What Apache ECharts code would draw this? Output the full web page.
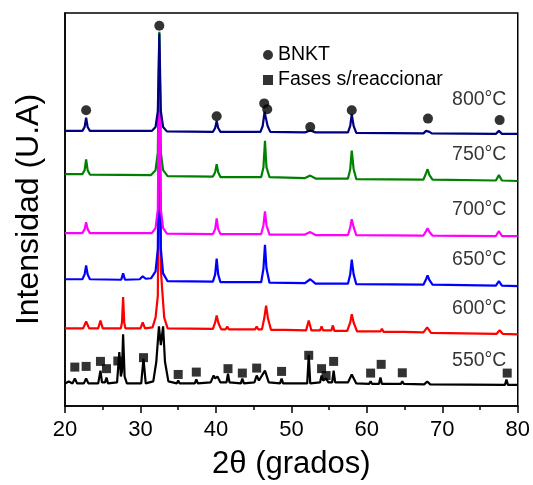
<!DOCTYPE html>
<html><head><meta charset="utf-8">
<script src="https://cdn.jsdelivr.net/npm/echarts@6/dist/echarts.min.js"></script>
<style>html,body{margin:0;padding:0;background:#fff}#c{width:533px;height:485px}</style>
</head><body><div id="c"></div>
<script>
// XRD traces: [2theta, intensity (arbitrary, stacked offset units)]
const t800 = [[20,280],[22.3,280],[22.6,284],[22.8,293.5],[23.0,284],[23.3,280],[31.5,280],[32.0,284],[32.3,300],[32.5,379],[32.7,300],[33.0,284],[33.5,279.5],[39.6,279],[39.9,283],[40.1,290],[40.3,283],[40.6,279],[45.9,279],[46.2,285],[46.45,299.5],[46.65,292],[46.85,285],[47.2,279],[51.8,278.5],[52.5,280.5],[53.2,278.5],[57.5,278.5],[57.8,285],[58.0,297],[58.25,285],[58.6,278],[67.5,277.5],[67.85,280],[68.05,282],[68.3,279],[68.6,277.5],[77.1,277],[77.5,280],[77.9,277],[80,277]];
const t750 = [[20,236],[22.3,236],[22.6,240],[22.8,251],[23.0,240],[23.3,235.5],[31.4,235],[32.0,240],[32.3,258],[32.5,381],[32.7,258],[33.0,240],[33.6,234],[39.6,233.5],[39.9,238],[40.1,246],[40.3,238],[40.6,233],[46.0,233],[46.3,243],[46.5,270],[46.7,243],[47.1,233],[51.8,232],[52.5,234.5],[53.2,231.5],[57.5,231.5],[57.8,241],[58.0,260],[58.25,241],[58.6,231],[67.5,230.5],[67.85,237],[68.05,241],[68.3,235],[68.7,230.5],[77.1,229.5],[77.5,235],[77.9,229.5],[80,229]];
const t700 = [[20,176],[22.3,176],[22.6,180],[22.8,187],[23.0,180],[23.3,176],[31.5,176],[32.0,181],[32.3,200],[32.5,361],[32.7,200],[33.0,181],[33.5,175.5],[39.6,175],[39.9,180],[40.1,191],[40.3,180],[40.6,175],[46.0,175],[46.3,184],[46.5,198],[46.7,184],[47.1,174.5],[51.8,174.5],[52.5,177],[53.2,174],[57.5,174],[57.8,182],[58.0,190],[58.25,182],[58.6,174],[67.5,173.5],[67.85,178],[68.05,181],[68.3,177],[68.7,173.5],[77.1,173],[77.5,178],[77.9,173],[80,173]];
const t650 = [[20,129],[22.3,129],[22.6,134],[22.8,143],[23.0,134],[23.3,129],[27.45,128.5],[27.7,135],[27.95,128.5],[29.9,129],[30.3,132],[30.7,129.5],[31.4,130],[32.0,137],[32.3,160],[32.5,341],[32.7,160],[33.0,135],[33.6,127],[39.6,126.5],[39.9,134],[40.1,150],[40.3,134],[40.6,126],[46.0,126],[46.3,140],[46.5,164],[46.7,140],[47.1,125.5],[51.8,125],[52.5,129],[53.2,124.5],[57.5,124.5],[57.8,134],[58.0,149],[58.25,134],[58.6,124],[67.5,123.5],[67.85,129],[68.05,133],[68.3,128],[68.7,123.5],[77.1,122.5],[77.5,127],[77.9,122.5],[80,122]];
const t600 = [[20,79],[22.4,79],[22.8,86],[23.2,79],[24.4,79],[24.7,87],[25.0,79],[27.4,79],[27.55,85],[27.7,111],[27.85,85],[28.0,79],[30.0,79],[30.3,85],[30.6,79],[31.6,80],[32.0,90],[32.3,112],[32.5,325],[32.7,140],[32.9,116],[33.15,90],[33.6,79],[39.6,78.5],[39.9,85],[40.1,92],[40.35,84],[40.7,78],[41.3,78],[41.5,81],[41.7,78],[43.3,78],[43.5,80],[43.7,78],[45.2,78],[45.4,81],[45.6,78],[46.1,78],[46.4,89],[46.65,102],[46.9,89],[47.3,77.5],[48.8,77.5],[49.0,79],[49.2,77.5],[51.95,77],[52.3,87],[52.65,77],[53.8,77],[54.0,81],[54.2,77],[55.3,77],[55.5,82],[55.7,76.5],[57.4,76.5],[57.8,85],[58.0,93.5],[58.25,85],[58.7,76],[61.8,76],[62.0,78.5],[62.2,75.5],[64.5,75.5],[64.7,76.5],[64.9,75.5],[67.5,75],[68.0,80],[68.5,74.5],[77.2,73.5],[77.6,77],[78.0,73.5],[80,73]];
const t550 = [[20,23],[20.5,25],[21.0,23],[21.3,28],[21.6,23],[22.5,23],[22.8,28],[23.1,23],[24.4,23],[24.7,36],[24.9,24],[25.3,24],[25.5,29],[25.7,23],[26.9,24],[27.2,55],[27.4,30],[27.55,35],[27.7,73],[27.9,30],[28.2,23],[30.1,23],[30.4,48],[30.7,23],[31.7,25],[32.1,45],[32.45,81],[32.7,62],[33.0,81],[33.25,45],[33.7,25],[34.8,23],[35.0,26],[35.2,23],[37.2,23],[37.4,27],[37.6,23],[39.3,24],[39.7,31],[39.9,28],[40.2,30],[40.6,24],[41.4,24],[41.6,33],[41.8,24],[43.3,23],[43.5,28],[43.7,23],[45.1,24],[45.4,31],[45.7,26],[46.5,36],[47.0,24],[48.5,23],[48.7,28],[48.9,23],[52.1,23],[52.3,52],[52.5,23],[53.8,24],[54.0,31],[54.2,26],[54.6,28],[54.9,24],[55.4,24],[55.6,36],[55.8,24],[57.5,24],[58.0,32],[58.6,23],[60.3,22.5],[60.5,25],[60.7,22.5],[61.6,22.5],[61.8,29],[62.0,22.5],[64.5,22.5],[64.7,25],[64.9,22.5],[67.6,22],[68.0,25],[68.4,22],[78.3,21.5],[78.5,27],[78.7,21.5],[80,21.5]];

// Phase markers
const bnktMarks = [[22.8,301],[32.5,387],[40.1,295],[46.4,308],[46.8,302],[52.5,284],[58.0,301],[68.1,292.5],[77.6,291]];
const unreactedMarks = [[21.3,39.6],[22.8,40.3],[24.7,45.4],[25.5,38],[27.0,45.8],[30.4,49.2],[35.0,32.1],[37.4,34.5],[41.6,38],[43.5,33.5],[45.4,38.6],[48.7,35.2],[52.3,51.6],[54.0,38],[54.6,31],[55.6,45.4],[60.5,33.5],[61.9,42.4],[64.7,33.8],[78.6,33.5]];

// Temperature labels
const tempLabels = ['800°C','750°C','700°C','650°C','600°C','550°C'];
const tempLabelY = [312,256,200,149,99,46];
const tempLabelX = 78.5;

const xTicks = [20,30,40,50,60,70,80];
const FONT = 'Liberation Sans, Arial, sans-serif';

const chart = echarts.init(document.getElementById('c'));
const lineS = (name, data, color) => ({
  type:'line', name, data, showSymbol:false, symbol:'none', silent:true,
  lineStyle:{color, width:2.2}, itemStyle:{color}, animation:false
});
chart.setOption({
  animation:false,
  backgroundColor:'#fff',
  grid:{left:65, right:14, top:13, bottom:72, show:true, borderColor:'#000', borderWidth:1.5, backgroundColor:'transparent'},
  legend:{
    data:[{name:'BNKT', icon:'circle'},{name:'Fases s/reaccionar', icon:'rect'}],
    orient:'vertical', left:258, top:40, itemWidth:10, itemHeight:10, itemGap:5,
    textStyle:{fontFamily:FONT, fontSize:19.5, color:'#000'}, selectedMode:false
  },
  xAxis:{
    type:'value', min:xTicks[0], max:xTicks[xTicks.length-1], interval:10,
    name:'2θ (grados)', nameLocation:'middle', nameGap:43,
    nameTextStyle:{fontFamily:FONT, fontSize:31, color:'#000'},
    axisLine:{show:true, lineStyle:{color:'#000', width:1.5}},
    axisTick:{show:true, inside:false, length:7, lineStyle:{color:'#000', width:1.5}},
    minorTick:{show:true, splitNumber:2, length:4, lineStyle:{color:'#000', width:1.5}},
    axisLabel:{fontFamily:FONT, fontSize:22, color:'#000', margin:13},
    splitLine:{show:false}
  },
  yAxis:{
    type:'value', min:0, max:400,
    name:'Intensidad (U.A)', nameLocation:'middle', nameGap:20, nameRotate:90,
    nameTextStyle:{fontFamily:FONT, fontSize:32, color:'#000'},
    axisLine:{show:true, lineStyle:{color:'#000', width:1.5}},
    axisTick:{show:false}, axisLabel:{show:false}, splitLine:{show:false}
  },
  series:[
    lineS('550', t550, '#000000'),
    lineS('600', t600, '#FF0000'),
    lineS('650', t650, '#0000FF'),
    lineS('750', t750, '#008000'),
    lineS('700', t700, '#FF00FF'),
    lineS('800', t800, '#000080'),
    {type:'scatter', name:'BNKT', data:bnktMarks, symbol:'circle', symbolSize:10, itemStyle:{color:'#000'}, silent:true, z:5},
    {type:'scatter', name:'Fases s/reaccionar', data:unreactedMarks, symbol:'rect', symbolSize:9, itemStyle:{color:'#000'}, silent:true, z:5},
    {type:'scatter', name:'labels', symbolSize:0, silent:true,
     data: tempLabels.map((t,i)=>({value:[tempLabelX, tempLabelY[i]], label:{show:true, formatter:t}})),
     label:{position:'left', distance:0, fontFamily:FONT, fontSize:19.5, color:'#000'}}
  ]
});
</script></body></html>
